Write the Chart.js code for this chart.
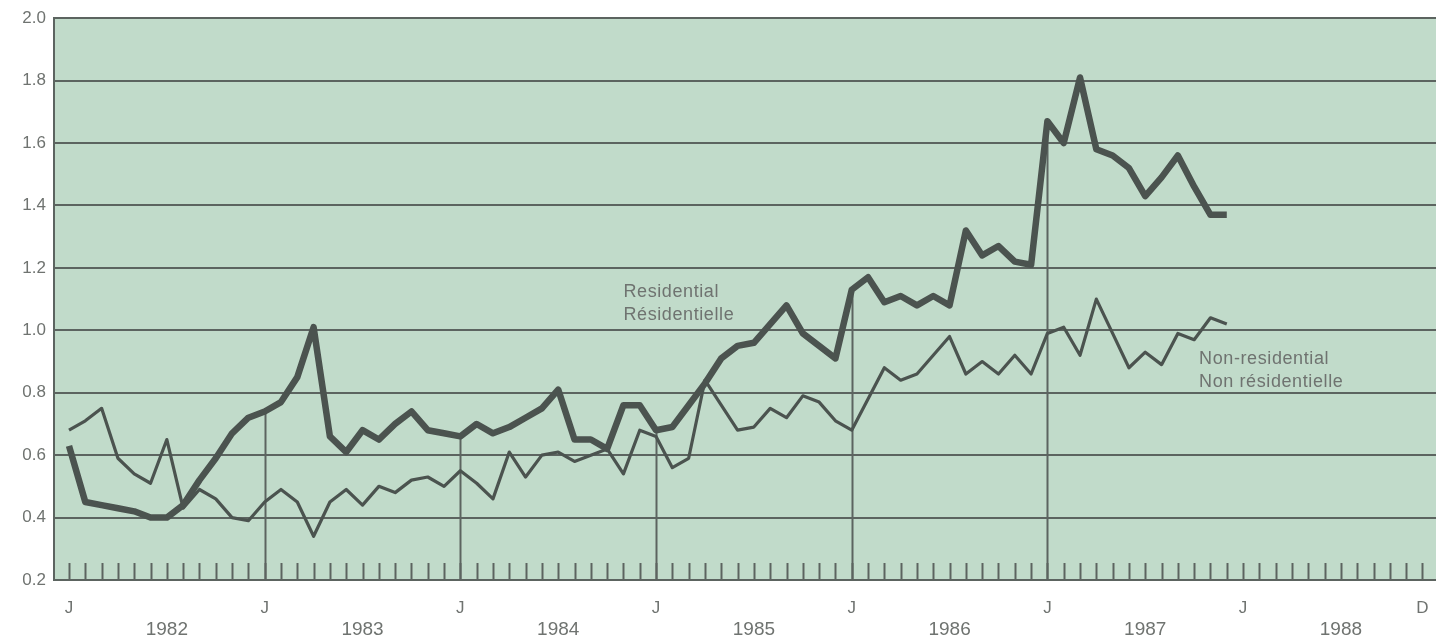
<!DOCTYPE html>
<html>
<head>
<meta charset="utf-8">
<script src="https://cdn.jsdelivr.net/npm/chart.js@4.4.1/dist/chart.umd.min.js"></script>
<style>
  html, body { margin: 0; padding: 0; background: #ffffff; }
  #wrap { width: 1436px; height: 638px; }
</style>
</head>
<body>
<div id="wrap"><canvas id="chart"></canvas></div>
<script>
// years shown on the axis, month index 0 = Jan 1982
var years = [1982, 1983, 1984, 1985, 1986, 1987, 1988];
var yTicks = [0.2, 0.4, 0.6, 0.8, 1.0, 1.2, 1.4, 1.6, 1.8, 2.0];
var monthTickLabels = ['J', 'J', 'J', 'J', 'J', 'J', 'J', 'D'];
var monthTickIdx = [0, 12, 24, 36, 48, 60, 72, 83];
// january drop lines (up to the residential line)
var dropIdx = [12, 24, 36, 48, 60];

// monthly values, Jan 1982 - Dec 1987
var residential = [
  0.63, 0.45, 0.44, 0.43, 0.42, 0.40, 0.40, 0.44, 0.52, 0.59, 0.67, 0.72,
  0.74, 0.77, 0.85, 1.01, 0.66, 0.61, 0.68, 0.65, 0.70, 0.74, 0.68, 0.67,
  0.66, 0.70, 0.67, 0.69, 0.72, 0.75, 0.81, 0.65, 0.65, 0.62, 0.76, 0.76,
  0.68, 0.69, 0.76, 0.83, 0.91, 0.95, 0.96, 1.02, 1.08, 0.99, 0.95, 0.91,
  1.13, 1.17, 1.09, 1.11, 1.08, 1.11, 1.08, 1.32, 1.24, 1.27, 1.22, 1.21,
  1.67, 1.60, 1.81, 1.58, 1.56, 1.52, 1.43, 1.49, 1.56, 1.46, 1.37, 1.37
];
var nonResidential = [
  0.68, 0.71, 0.75, 0.59, 0.54, 0.51, 0.65, 0.43, 0.49, 0.46, 0.40, 0.39,
  0.45, 0.49, 0.45, 0.34, 0.45, 0.49, 0.44, 0.50, 0.48, 0.52, 0.53, 0.50,
  0.55, 0.51, 0.46, 0.61, 0.53, 0.60, 0.61, 0.58, 0.60, 0.62, 0.54, 0.68,
  0.66, 0.56, 0.59, 0.84, 0.76, 0.68, 0.69, 0.75, 0.72, 0.79, 0.77, 0.71,
  0.68, 0.78, 0.88, 0.84, 0.86, 0.92, 0.98, 0.86, 0.90, 0.86, 0.92, 0.86,
  0.99, 1.01, 0.92, 1.10, 0.99, 0.88, 0.93, 0.89, 0.99, 0.97, 1.04, 1.02
];

var ink = '#4b534f';
var gridInk = '#5c6460';
var textInk = '#6f7370';

function toPoints(arr) {
  return arr.map(function (v, i) { return { x: i, y: v }; });
}

var backdrop = {
  id: 'backdrop',
  beforeDraw: function (chart) {
    var a = chart.chartArea, ctx = chart.ctx;
    ctx.save();
    ctx.fillStyle = '#c1dbca';
    ctx.fillRect(a.left, a.top, a.right - a.left, a.bottom - a.top);
    ctx.restore();
  },
  beforeDatasetsDraw: function (chart) {
    var ctx = chart.ctx, xs = chart.scales.x, ys = chart.scales.y;
    var bottom = ys.getPixelForValue(0.2);
    ctx.save();
    ctx.strokeStyle = gridInk;
    ctx.lineWidth = 2;
    // monthly ticks
    for (var m = 0; m < 84; m++) {
      var px = Math.round(xs.getPixelForValue(m)) + 0.5;
      ctx.beginPath();
      ctx.moveTo(px, bottom);
      ctx.lineTo(px, bottom - 17);
      ctx.stroke();
    }
    // january drop lines
    dropIdx.forEach(function (m) {
      var px = Math.round(xs.getPixelForValue(m)) + 0.5;
      ctx.beginPath();
      ctx.moveTo(px, bottom);
      ctx.lineTo(px, ys.getPixelForValue(residential[m]));
      ctx.stroke();
    });
    ctx.restore();
  },
  afterDatasetsDraw: function (chart) {
    var ctx = chart.ctx, xs = chart.scales.x, ys = chart.scales.y;
    ctx.save();
    ctx.fillStyle = textInk;
    ctx.font = '18px "Liberation Sans", Arial, sans-serif';
    ctx.letterSpacing = '0.6px';
    ctx.textBaseline = 'middle';
    ctx.textAlign = 'left';
    ctx.fillText('Residential', xs.getPixelForValue(34), ys.getPixelForValue(1.124));
    ctx.fillText('Résidentielle', xs.getPixelForValue(34), ys.getPixelForValue(1.05));
    ctx.fillText('Non-residential', xs.getPixelForValue(69.3), ys.getPixelForValue(0.908));
    ctx.fillText('Non résidentielle', xs.getPixelForValue(69.3), ys.getPixelForValue(0.833));
    ctx.restore();
  }
};

new Chart(document.getElementById('chart'), {
  type: 'line',
  data: {
    datasets: [{
      label: 'Residential',
      data: toPoints(residential),
      borderColor: ink,
      borderWidth: 6.5,
      borderJoinStyle: 'round',
      pointRadius: 0,
      tension: 0
    }, {
      label: 'Non-residential',
      data: toPoints(nonResidential),
      borderColor: ink,
      borderWidth: 3.2,
      borderJoinStyle: 'round',
      pointRadius: 0,
      tension: 0
    }]
  },
  options: {
    responsive: true,
    maintainAspectRatio: false,
    animation: false,
    layout: { padding: { top: 10, right: 0, left: 0, bottom: 0 } },
    plugins: { legend: { display: false }, tooltip: { enabled: false } },
    scales: {
      x: {
        type: 'linear',
        position: 'bottom',
        weight: 0,
        min: -0.92,
        max: 83.83,
        afterBuildTicks: function (axis) {
          axis.ticks = monthTickIdx.map(function (v) { return { value: v }; });
        },
        afterFit: function (s) { s.height = 36; },
        grid: { display: true, drawOnChartArea: false, drawTicks: true, tickLength: 18, color: 'rgba(0,0,0,0)' },
        border: { display: false },
        ticks: {
          autoSkip: false,
          maxRotation: 0,
          padding: 0,
          color: textInk,
          font: { size: 17, family: '"Liberation Sans", Arial, sans-serif' },
          callback: function (v) {
            var k = monthTickIdx.indexOf(v);
            return k >= 0 ? monthTickLabels[k] : '';
          }
        }
      },
      xYear: {
        type: 'linear',
        position: 'bottom',
        weight: 1,
        min: -0.92,
        max: 83.83,
        afterBuildTicks: function (axis) {
          axis.ticks = years.map(function (y, k) { return { value: k * 12 + 6 }; });
        },
        afterFit: function (s) { s.height = 22; },
        grid: { display: false, drawTicks: false },
        border: { display: false },
        ticks: {
          autoSkip: false,
          maxRotation: 0,
          padding: 2,
          color: textInk,
          font: { size: 19, family: '"Liberation Sans", Arial, sans-serif' },
          callback: function (v) {
            var k = Math.round((v - 6) / 12);
            return years[k] !== undefined ? String(years[k]) : '';
          }
        }
      },
      y: {
        min: 0.2,
        max: 2.0,
        afterBuildTicks: function (axis) {
          axis.ticks = yTicks.map(function (v) { return { value: v }; });
        },
        afterFit: function (s) { s.width = 54; },
        grid: { color: gridInk, lineWidth: 2, drawTicks: false },
        border: { display: true, color: gridInk, width: 2 },
        ticks: {
          padding: 8,
          color: textInk,
          font: { size: 17, family: '"Liberation Sans", Arial, sans-serif' },
          callback: function (v) { return v.toFixed(1); }
        }
      }
    }
  },
  plugins: [backdrop]
});
</script>
</body>
</html>
